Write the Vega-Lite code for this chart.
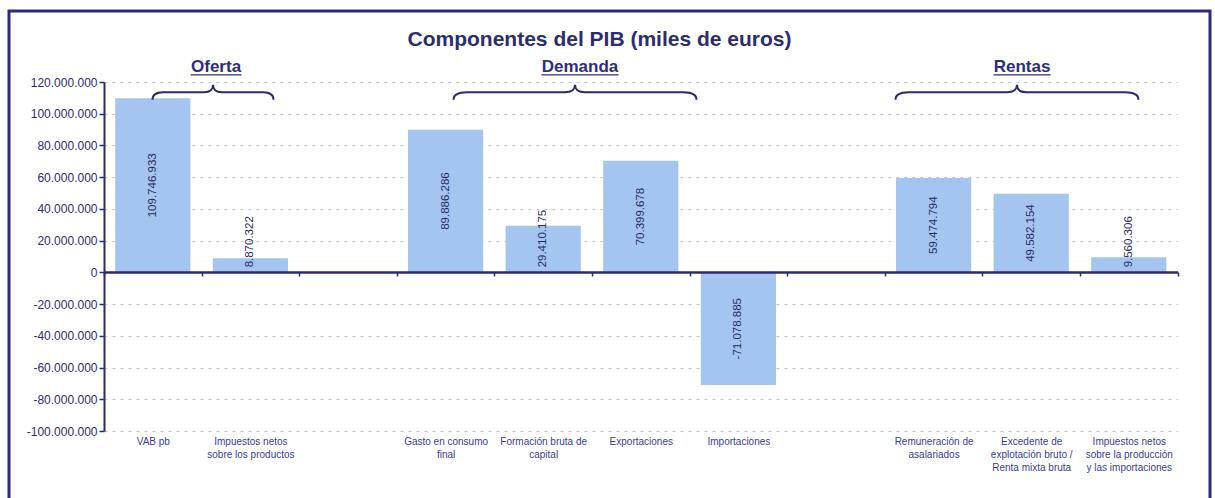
{
  "$schema": "https://vega.github.io/schema/vega-lite/v6.json",
  "width": 1201,
  "height": 490,
  "autosize": {"type": "none"},
  "padding": {"left": 9, "top": 11, "right": 5, "bottom": 0},
  "background": "white",
  "title": {
    "text": "Componentes del PIB (miles de euros)",
    "anchor": "middle",
    "frame": "group",
    "offset": -56,
    "baseline": "alphabetic",
    "dx": -10,
    "font": "Liberation Sans",
    "fontSize": 21,
    "fontWeight": "bold",
    "color": "#2d2c6e"
  },
  "config": {
    "locale": {"number": {"decimal": ",", "thousands": ".", "grouping": [3], "currency": ["", " €"], "minus": "-"}},
    "view": {"stroke": "#2b2a7c", "strokeWidth": 3, "fill": "white"},
    "font": "Liberation Sans"
  },
  "datasets": {
    "pib": [
      {"concepto": "VAB pb", "valor": 109746933},
      {"concepto": "Impuestos netos\nsobre los productos", "valor": 8870322},
      {"concepto": "Gasto en consumo\nfinal", "valor": 89886286},
      {"concepto": "Formación bruta de\ncapital", "valor": 29410175},
      {"concepto": "Exportaciones", "valor": 70399678},
      {"concepto": "Importaciones", "valor": -71078885},
      {"concepto": "Remuneración de\nasalariados", "valor": 59474794},
      {"concepto": "Excedente de\nexplotación bruto /\nRenta mixta bruta", "valor": 49582154},
      {"concepto": "Impuestos netos\nsobre la producción\ny las importaciones", "valor": 9560306}
    ],
    "grupos": [
      {"grupo": "Oferta"},
      {"grupo": "Demanda"},
      {"grupo": "Rentas"}
    ]
  },
  "resolve": {"scale": {"y": "independent"}},
  "layer": [
    {
      "data": {"name": "pib"},
      "mark": {"type": "bar", "color": "#a3c5f0", "width": {"band": 0.77}},
      "encoding": {
        "x": {
          "field": "concepto",
          "type": "nominal",
          "sort": null,
          "scale": {
            "domain": ["VAB pb", "Impuestos netos\nsobre los productos", " ", "Gasto en consumo\nfinal", "Formación bruta de\ncapital", "Exportaciones", "Importaciones", "  ", "Remuneración de\nasalariados", "Excedente de\nexplotación bruto /\nRenta mixta bruta", "Impuestos netos\nsobre la producción\ny las importaciones"],
            "range": [95, 1168.6],
            "paddingInner": 0,
            "paddingOuter": 0
          },
          "axis": {
            "title": null,
            "orient": "bottom",
            "offset": -229,
            "domain": true,
            "domainColor": "#2b2a6e",
            "domainWidth": 2.5,
            "ticks": true,
            "tickBand": "extent",
            "tickSize": 4,
            "tickColor": "#2b2a6e",
            "tickWidth": 1.5,
            "labelAngle": 0,
            "labelAlign": "center",
            "labelBaseline": "top",
            "labelPadding": 160,
            "labelFont": "Liberation Sans",
            "labelFontSize": 10,
            "labelColor": "#3b3b96",
            "labelLineHeight": 13,
            "labelOverlap": false,
            "labelLimit": 200,
            "labelExpr": "split(datum.label, '\\n')",
            "grid": false,
            "zindex": 1
          }
        },
        "y": {
          "field": "valor",
          "type": "quantitative",
          "scale": {"domain": [-100000000, 120000000], "range": [420, 71], "nice": false, "zero": false},
          "axis": {
            "title": null,
            "offset": -95,
            "values": [-100000000, -80000000, -60000000, -40000000, -20000000, 0, 20000000, 40000000, 60000000, 80000000, 100000000, 120000000],
            "format": ",.0f",
            "domainColor": "#2b2a6e",
            "domainWidth": 2,
            "tickColor": "#2b2a6e",
            "tickSize": 5,
            "tickWidth": 1.5,
            "labelFont": "Liberation Sans",
            "labelFontSize": 12,
            "labelColor": "#2d2c6e",
            "labelPadding": 2,
            "grid": true,
            "gridColor": "#c4c4c4",
            "gridDash": [3, 5],
            "gridWidth": 1
          }
        }
      }
    },
    {
      "data": {"name": "pib"},
      "transform": [{"filter": "abs(datum.valor) > 40000000"}],
      "mark": {"type": "text", "angle": 270, "align": "center", "baseline": "middle", "font": "Liberation Sans", "fontSize": 11.5, "color": "#2a2a66"},
      "encoding": {
        "x": {"field": "concepto", "type": "nominal"},
        "y": {"field": "valor", "type": "quantitative", "scale": {"domain": [-200000000, 240000000], "range": [420, 71], "nice": false, "zero": false}, "axis": null},
        "text": {"field": "valor", "type": "quantitative", "format": ",.0f"}
      }
    },
    {
      "data": {"name": "pib"},
      "transform": [{"filter": "abs(datum.valor) <= 40000000"}],
      "mark": {"type": "text", "angle": 270, "align": "left", "baseline": "middle", "dx": 5, "font": "Liberation Sans", "fontSize": 11.5, "color": "#2a2a66"},
      "encoding": {
        "x": {"field": "concepto", "type": "nominal"},
        "y": {"datum": 0, "type": "quantitative", "scale": {"domain": [-100000000, 120000000], "range": [420, 71], "nice": false, "zero": false}, "axis": null},
        "text": {"field": "valor", "type": "quantitative", "format": ",.0f"}
      }
    },
    {
      "data": {"name": "grupos"},
      "transform": [{"filter": "datum.grupo === 'Oferta'"}],
      "layer": [
        {
          "mark": {"type": "text", "font": "Liberation Sans", "fontSize": 17, "fontWeight": "bold", "color": "#2e2d7e", "baseline": "alphabetic", "align": "center"},
          "encoding": {
            "x": {"datum": "Impuestos netos\nsobre los productos", "type": "nominal", "bandPosition": 0.148},
            "y": {"datum": 126000000, "type": "quantitative", "scale": {"domain": [-100000000, 120000000], "range": [420, 71], "nice": false, "zero": false}, "axis": null},
            "text": {"field": "grupo"}
          }
        },
        {
          "mark": {"type": "point", "shape": "M -1 0 L 1 0", "size": 2601, "filled": false, "stroke": "#2e2d7e", "strokeWidth": 1.3, "opacity": 1},
          "encoding": {
            "x": {"datum": "Impuestos netos\nsobre los productos", "type": "nominal", "bandPosition": 0.148},
            "y": {"datum": 124500000, "type": "quantitative", "scale": {"domain": [-100000000, 120000000], "range": [420, 71], "nice": false, "zero": false}, "axis": null}
          }
        },
        {
          "mark": {"type": "point", "shape": "M -60.5 7.5 C -60.5 2 -57 0 -50 0 L -9 0 C -3 0 0 -3 0 -7.5 C 0 -3 3 0 9 0 L 50 0 C 57 0 60.5 2 60.5 7.5", "size": 4, "filled": false, "stroke": "#2b2a6e", "strokeWidth": 2, "opacity": 1},
          "encoding": {
            "x": {"datum": "Impuestos netos\nsobre los productos", "type": "nominal", "bandPosition": 0.117},
            "y": {"datum": 113500000, "type": "quantitative", "scale": {"domain": [-100000000, 120000000], "range": [420, 71], "nice": false, "zero": false}, "axis": null}
          }
        }
      ]
    },
    {
      "data": {"name": "grupos"},
      "transform": [{"filter": "datum.grupo === 'Demanda'"}],
      "layer": [
        {
          "mark": {"type": "text", "font": "Liberation Sans", "fontSize": 17, "fontWeight": "bold", "color": "#2e2d7e", "baseline": "alphabetic", "align": "center"},
          "encoding": {
            "x": {"datum": "Formación bruta de\ncapital", "type": "nominal", "bandPosition": 0.877},
            "y": {"datum": 126000000, "type": "quantitative", "scale": {"domain": [-100000000, 120000000], "range": [420, 71], "nice": false, "zero": false}, "axis": null},
            "text": {"field": "grupo"}
          }
        },
        {
          "mark": {"type": "point", "shape": "M -1 0 L 1 0", "size": 5929, "filled": false, "stroke": "#2e2d7e", "strokeWidth": 1.3, "opacity": 1},
          "encoding": {
            "x": {"datum": "Formación bruta de\ncapital", "type": "nominal", "bandPosition": 0.877},
            "y": {"datum": 124500000, "type": "quantitative", "scale": {"domain": [-100000000, 120000000], "range": [420, 71], "nice": false, "zero": false}, "axis": null}
          }
        },
        {
          "mark": {"type": "point", "shape": "M -121.5 7.5 C -121.5 2 -117 0 -108 0 L -10 0 C -3 0 0 -3 0 -7.5 C 0 -3 3 0 10 0 L 108 0 C 117 0 121.5 2 121.5 7.5", "size": 4, "filled": false, "stroke": "#2b2a6e", "strokeWidth": 2, "opacity": 1},
          "encoding": {
            "x": {"datum": "Formación bruta de\ncapital", "type": "nominal", "bandPosition": 0.826},
            "y": {"datum": 113500000, "type": "quantitative", "scale": {"domain": [-100000000, 120000000], "range": [420, 71], "nice": false, "zero": false}, "axis": null}
          }
        }
      ]
    },
    {
      "data": {"name": "grupos"},
      "transform": [{"filter": "datum.grupo === 'Rentas'"}],
      "layer": [
        {
          "mark": {"type": "text", "font": "Liberation Sans", "fontSize": 17, "fontWeight": "bold", "color": "#2e2d7e", "baseline": "alphabetic", "align": "center"},
          "encoding": {
            "x": {"datum": "Excedente de\nexplotación bruto /\nRenta mixta bruta", "type": "nominal", "bandPosition": 0.406},
            "y": {"datum": 126000000, "type": "quantitative", "scale": {"domain": [-100000000, 120000000], "range": [420, 71], "nice": false, "zero": false}, "axis": null},
            "text": {"field": "grupo"}
          }
        },
        {
          "mark": {"type": "point", "shape": "M -1 0 L 1 0", "size": 3249, "filled": false, "stroke": "#2e2d7e", "strokeWidth": 1.3, "opacity": 1},
          "encoding": {
            "x": {"datum": "Excedente de\nexplotación bruto /\nRenta mixta bruta", "type": "nominal", "bandPosition": 0.406},
            "y": {"datum": 124500000, "type": "quantitative", "scale": {"domain": [-100000000, 120000000], "range": [420, 71], "nice": false, "zero": false}, "axis": null}
          }
        },
        {
          "mark": {"type": "point", "shape": "M -121.5 7.5 C -121.5 2 -117 0 -108 0 L -10 0 C -3 0 0 -3 0 -7.5 C 0 -3 3 0 10 0 L 108 0 C 117 0 121.5 2 121.5 7.5", "size": 4, "filled": false, "stroke": "#2b2a6e", "strokeWidth": 2, "opacity": 1},
          "encoding": {
            "x": {"datum": "Excedente de\nexplotación bruto /\nRenta mixta bruta", "type": "nominal", "bandPosition": 0.354},
            "y": {"datum": 113500000, "type": "quantitative", "scale": {"domain": [-100000000, 120000000], "range": [420, 71], "nice": false, "zero": false}, "axis": null}
          }
        }
      ]
    }
  ]
}
